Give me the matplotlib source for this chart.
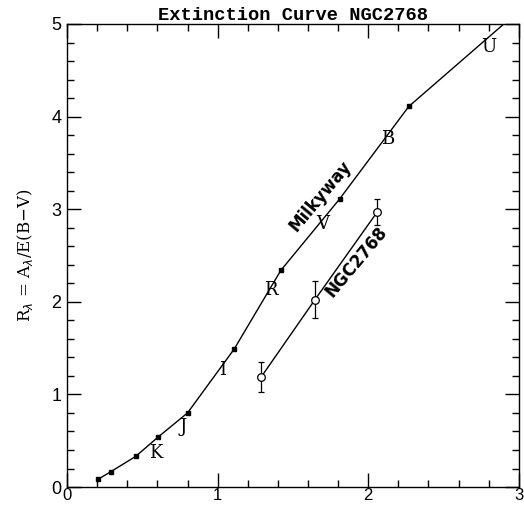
import numpy as np
import matplotlib as mpl
import matplotlib.pyplot as plt
import matplotlib.ticker as mticker

# Milky Way extinction curve (x = 1/lambda, y = R_lambda)
mw_x = [0.204, 0.29, 0.455, 0.605, 0.80, 1.11, 1.42, 1.81, 2.27, 3.0]
mw_y = [0.082, 0.165, 0.33, 0.54, 0.80, 1.49, 2.34, 3.11, 4.11, 5.14]

# NGC2768 measurements
ngc_x = [1.29, 1.645, 2.06]
ngc_y = [1.19, 2.02, 2.97]
ngc_err = [0.16, 0.20, 0.14]

band_names = ['K', 'J', 'I', 'R', 'V', 'B', 'U']
band_x = [0.59, 0.77, 1.03, 1.35, 1.70, 2.13, 2.80]
band_y = [0.37, 0.65, 1.26, 2.13, 2.84, 3.76, 4.75]

fig = plt.figure(figsize=(5.24, 5.07), dpi=100)
ax = fig.add_axes([0.128, 0.0394, 0.862, 0.9133])

ax.plot(mw_x, mw_y, color='black', lw=1.0, marker='s', ms=3, clip_on=True)
ax.plot(ngc_x, ngc_y, color='black', lw=1.0)
ax.errorbar(ngc_x, ngc_y, yerr=ngc_err, fmt='o', mfc='white', mec='black',
            ms=5.5, mew=0.9, ecolor='black', elinewidth=0.9, capsize=2.5)

for name, bx, by in zip(band_names, band_x, band_y):
    ax.text(bx, by, name, family='DejaVu Serif', fontsize=13,
            ha='center', va='center')

ax.text(1.68, 3.14, 'Milkyway', rotation=50, fontsize=12, fontweight='bold',
        ha='center', va='center')
ax.text(1.92, 2.43, 'NGC2768', rotation=50, fontsize=12, fontweight='bold',
        ha='center', va='center')

ax.set_xlim(0, 3)
ax.set_ylim(0, 5)
ax.xaxis.set_major_locator(mticker.MultipleLocator(1))
ax.xaxis.set_minor_locator(mticker.MultipleLocator(0.2))
ax.yaxis.set_major_locator(mticker.MultipleLocator(1))
ax.yaxis.set_minor_locator(mticker.MultipleLocator(0.2))
ax.tick_params(which='both', direction='in', top=True, right=True,
               labelsize=13, width=1.0)
ax.tick_params(which='major', length=10, pad=4)
ax.tick_params(axis='x', which='major', pad=1, labelsize=12)
ax.tick_params(which='minor', length=5)
for lab in ax.get_xticklabels() + ax.get_yticklabels():
    lab.set_family('Liberation Sans')
for s in ax.spines.values():
    s.set_linewidth(1.0)

ax.set_ylabel(r'R$_\lambda$ = A$_\lambda$/E(B$-$V)', family='DejaVu Serif',
              fontsize=12, labelpad=12)
ax.set_title('Extinction Curve NGC2768', family='Liberation Mono',
             fontweight='bold', fontsize=13.5, pad=3)

fig.savefig('out.png', dpi=100)
